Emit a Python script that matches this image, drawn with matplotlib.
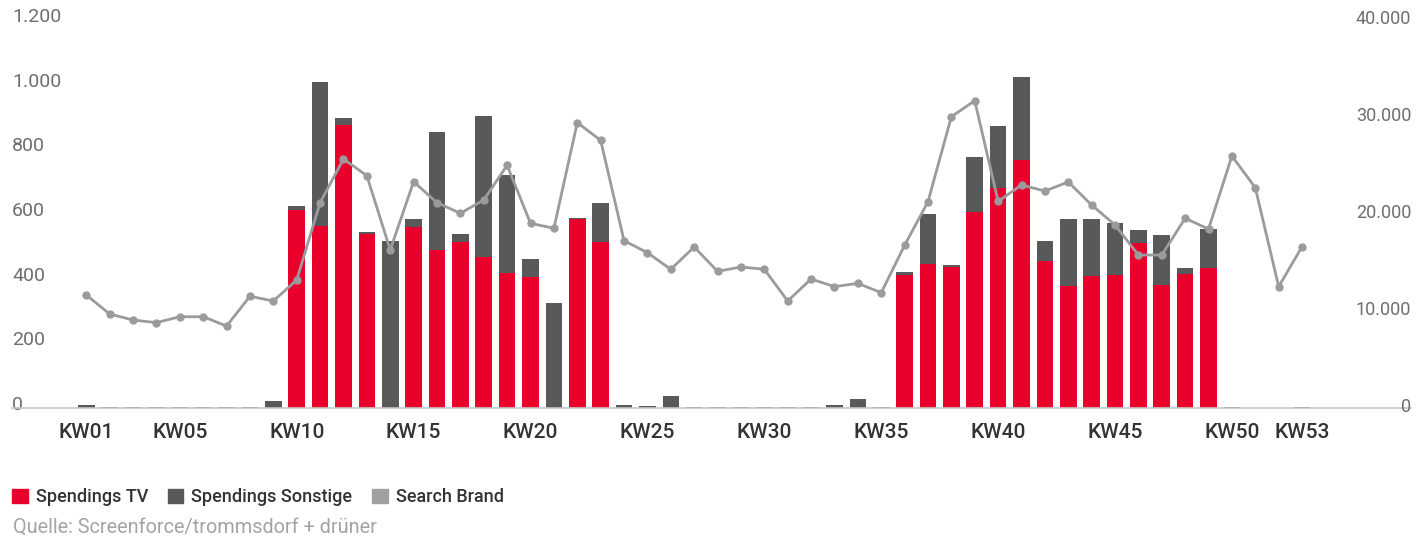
import matplotlib
matplotlib.use('Agg')
import matplotlib.pyplot as plt
from matplotlib.patches import Patch
from matplotlib.transforms import ScaledTranslation

# Kalenderwochen 1..53
weeks = list(range(1, 54))

# Spendings TV je KW
spend_tv = [0, 0, 0, 0, 0, 0, 0, 0, 0, 613,
            564, 875, 539, 0, 560, 490, 514, 467, 418, 405,
            0, 584, 514, 0, 0, 0, 0, 0, 0, 0,
            0, 0, 0, 0, 0, 411, 446, 436, 607, 681,
            768, 455, 378, 409, 411, 511, 380, 415, 434, 0,
            0, 0, 0]

# Spendings Sonstige je KW
spend_other = [10, 3, 3, 3, 3, 3, 3, 3, 22, 12,
               444, 22, 5, 517, 25, 364, 24, 436, 303, 56,
               325, 3, 120, 9, 6, 38, 3, 3, 3, 3,
               3, 3, 9, 28, 3, 10, 154, 6, 169, 191,
               257, 62, 207, 176, 161, 40, 155, 18, 120, 3,
               0, 0, 3]

# Search Brand je KW (rechte Achse)
search_brand = [11650, 9690, 9070, 8800, 9410, 9410, 8450, 11520, 11030, 13200,
                21170, 25670, 23950, 16290, 23330, 21170, 20070, 21450, 25020, 19040,
                18530, 29420, 27600, 17250, 16010, 14300, 16600, 14090, 14540, 14300,
                11030, 13300, 12510, 12850, 11890, 16770, 21270, 30030, 31680, 21310,
                22990, 22370, 23300, 20930, 18870, 15770, 15770, 19560, 18450, 25980,
                22710, 12510, 16630]

x_ticks = [1, 5, 10, 15, 20, 25, 30, 35, 40, 45, 50, 53]
x_labels = ['KW%02d' % w for w in x_ticks]
left_ticks = [0, 200, 400, 600, 800, 1000, 1200]
right_ticks = [0, 10000, 20000, 30000, 40000]

RED = '#e9002b'
DARK = '#58595b'
LINE = '#9b9b9e'


def de_format(v):
    return '{:,}'.format(v).replace(',', '.')


plt.rcParams['font.family'] = ['Roboto', 'DejaVu Sans']

W, H = 1417, 538
fig = plt.figure(figsize=(W / 100, H / 100), dpi=100)
ax = fig.add_axes([12 / W, (H - 408) / H, (1411 - 12) / W, 388 / H])

ax.bar(weeks, spend_tv, width=0.71, color=RED, zorder=2)
ax.bar(weeks, spend_other, width=0.71, bottom=spend_tv, color=DARK, zorder=2)

ax.set_xlim(1 - 74.3 / 23.38, 1 + (1411 - 86.3) / 23.38)
ax.set_ylim(0, 1200)

for s in ['top', 'left', 'right']:
    ax.spines[s].set_visible(False)
ax.spines['bottom'].set_color('#c6c6c6')
ax.spines['bottom'].set_linewidth(1.2)

ax.set_xticks(x_ticks)
ax.set_xticklabels(x_labels)
ax.tick_params(axis='x', length=0, pad=11, labelsize=15, labelcolor='#333333')
for lbl in ax.get_xticklabels():
    lbl.set_fontweight('medium')

ax.set_yticks(left_ticks)
ax.set_yticklabels([de_format(v) for v in left_ticks])
ax.tick_params(axis='y', length=0, pad=0, labelsize=14, labelcolor='#6d6e71')

# Suchvolumen als Linie auf zweiter Achse
ax2 = ax.twinx()
ax2.plot(weeks, search_brand, color=LINE, linewidth=2, marker='o', markersize=5,
         zorder=3)
ax2.set_ylim(0, 40000)
for s in ['top', 'left', 'right', 'bottom']:
    ax2.spines[s].set_visible(False)
ax2.set_yticks(right_ticks)
ax2.set_yticklabels([de_format(v) for v in right_ticks])
ax2.tick_params(axis='y', length=0, pad=0, labelsize=13, labelcolor='#6d6e71')

# Achsenbeschriftungen innerhalb der Achse, leicht nach oben versetzt
shift_l = ScaledTranslation(0, 5 / 100, fig.dpi_scale_trans)
shift_r = ScaledTranslation(0, 3 / 100, fig.dpi_scale_trans)
for lbl in ax.get_yticklabels():
    lbl.set_horizontalalignment('left')
    lbl.set_transform(lbl.get_transform() + shift_l)
for lbl in ax2.get_yticklabels():
    lbl.set_horizontalalignment('right')
    lbl.set_transform(lbl.get_transform() + shift_r)

handles = [Patch(color=RED, label='Spendings TV'),
           Patch(color=DARK, label='Spendings Sonstige'),
           Patch(color='#a0a0a2', label='Search Brand')]
leg = fig.legend(handles=handles, loc='upper left', bbox_to_anchor=(5 / W, 1 - 481 / H),
                 ncol=3, frameon=False, fontsize=13, handlelength=0.85, handleheight=0.85,
                 handletextpad=0.45, columnspacing=1.1, borderaxespad=0)
for t in leg.get_texts():
    t.set_color('#333333')
    t.set_fontweight('medium')

fig.text(13 / W, 1 - 527 / H, 'Quelle: Screenforce/trommsdorf + drüner',
         fontsize=14.3, color='#a3a4a7', va='center', ha='left')

fig.savefig('out.png', dpi=100)
